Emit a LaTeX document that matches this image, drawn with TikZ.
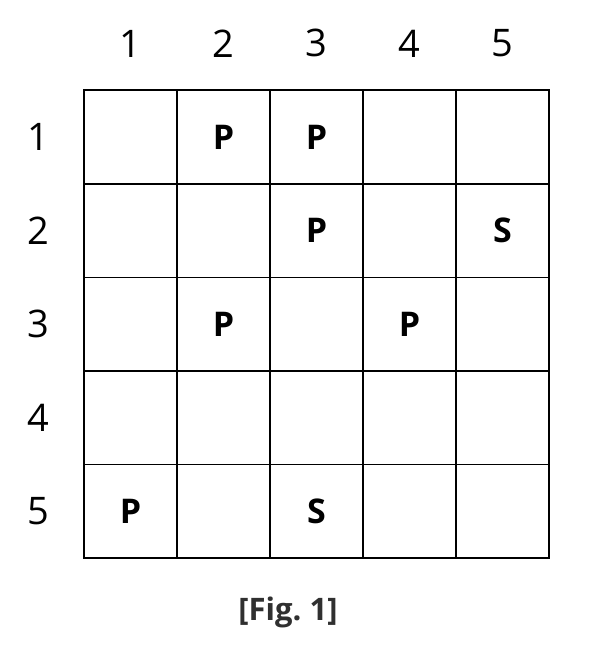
\documentclass[tikz,border=0pt]{standalone}
\usepackage{fontspec}
\setmainfont{Open Sans}
\usetikzlibrary{positioning}
\definecolor{capgray}{HTML}{303030}
\tikzset{
  cell/.style={draw, line width=1.5pt, minimum width=93pt, minimum height=93.6pt, inner sep=0pt},
  piece/.style={font=\fontsize{34}{34}\selectfont\bfseries, inner sep=0pt},
  idx/.style={font=\fontsize{38}{38}\selectfont, inner sep=0pt}
}
\begin{document}
\begin{tikzpicture}[x=1pt, y=-1pt]
	%%%%% START %%%%%
	\useasboundingbox (0, 0) rectangle (602, 656);
	
	% board
	\foreach \r in {1,...,5}
	  \foreach \c in {1,...,5}
	    \node[cell] (c\r\c) at ({130.5+93*(\c-1)}, {137+93.6*(\r-1)}) {};
	
	% pieces
	\foreach \pos/\p in {12/P, 13/P, 23/P, 25/S, 32/P, 34/P, 51/P, 53/S}
	  \node[piece] (p\pos) at (c\pos) {\p};
	
	% indices
	\foreach \c in {1,...,5}
	  \node[idx, above=32pt of c1\c] (col\c) {\c};
	\foreach \r in {1,...,5}
	  \node[idx, left=34pt of c\r1] (row\r) {\r};
	
	% caption
	\node[font=\fontsize{31}{31}\selectfont\bfseries, text=capgray] (fig) at (288, 612) {[Fig.\ 1]};
	%%%%% END %%%%%
\end{tikzpicture}
\end{document}
